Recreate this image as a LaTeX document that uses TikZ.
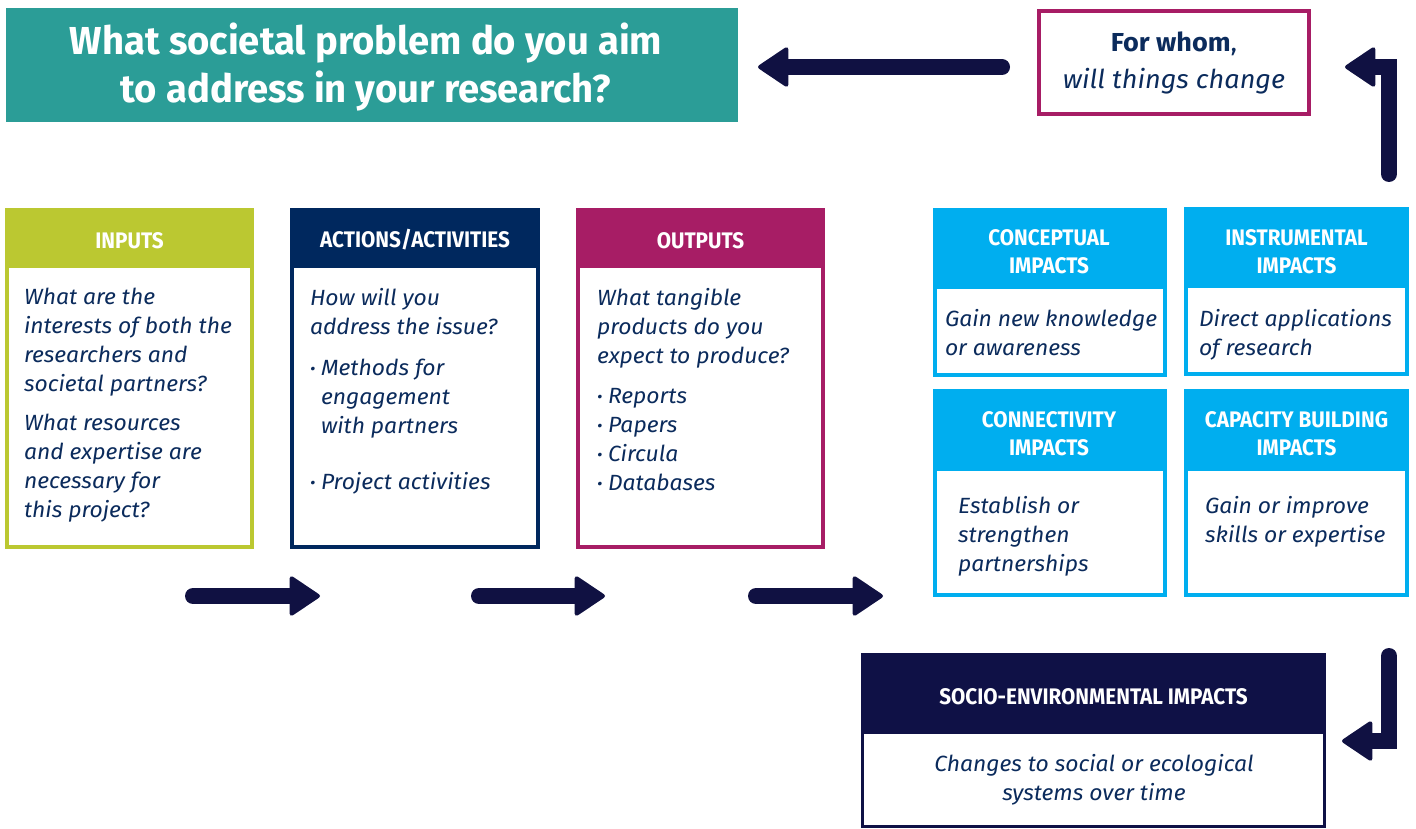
\documentclass[tikz,border=0pt]{standalone}
\usepackage{fontspec}
\setmainfont{Fira Sans}
\newfontfamily\headfont{Fira Sans}[FakeStretch=0.92]
\newfontfamily\titlefont{Fira Sans}[FakeStretch=0.98]
\newfontfamily\bodyfont{Fira Sans}[FakeStretch=1.04]
\usetikzlibrary{arrows.meta}
\definecolor{cTeal}{HTML}{2B9D97}
\definecolor{cGreen}{HTML}{BBC831}
\definecolor{cNavy}{HTML}{00285E}
\definecolor{cMag}{HTML}{A71D65}
\definecolor{cCyan}{HTML}{00AEEF}
\definecolor{cDark}{HTML}{0F1146}
\definecolor{cText}{HTML}{0B2B5C}
\definecolor{cArrow}{HTML}{101142}
\newcommand{\bul}{\makebox[11pt][l]{\raisebox{0.5pt}{\fontsize{16}{16}\selectfont •}}}
\newcommand{\ind}{\hspace*{11pt}}
\begin{document}
\begin{tikzpicture}[x=1pt,y=-1pt,
  frame/.style={draw=#1, line width=4pt, fill=white, inner sep=0pt, outer sep=0pt},
  head/.style={fill=#1, inner sep=0pt, outer sep=0pt, text=white, align=center,
    font=\headfont\bfseries\fontsize{22.5}{28}\selectfont,
    execute at begin node={\rule{0pt}{22pt}}},
  headfill/.style={fill=#1, inner sep=0pt, outer sep=0pt},
  headtext/.style={inner sep=0pt, outer sep=0pt, text=white, align=center,
    font=\headfont\bfseries\fontsize{22.5}{28}\selectfont},
  body/.style={anchor=north west, inner sep=0pt, outer sep=0pt, align=left, text=cText,
    font=\bodyfont\itshape\fontsize{22}{29}\selectfont},
  bigarrow/.style={draw=cArrow, line width=16pt, line cap=round,
    -{Triangle[round, length=32pt, width=42pt, line width=4pt]}},
]
\useasboundingbox (0,0) rectangle (1416,829);

% title
\node[fill=cTeal, minimum width=732pt, minimum height=114pt, inner sep=0pt, outer sep=0pt]
  (title) at (372,65) {};
\node[inner sep=0pt, outer sep=0pt, text=white, align=center,
  font=\titlefont\bfseries\fontsize{39}{48}\selectfont]
  (titleT) at (366,67) {What societal problem do you aim\\to address in your research?};

% for whom
\node[draw=cMag, line width=4pt, minimum width=270pt, minimum height=103pt, inner sep=0pt,
  outer sep=0pt, align=center, text=cText, font=\bodyfont\fontsize{26}{37}\selectfont]
  (whom) at (1174,62.5) {\textbf{For whom},\\\textit{will things change}};

% INPUTS
\node[frame=cGreen, minimum width=245pt, minimum height=337pt] (inputs) at (129.5,378.5) {};
\node[head=cGreen, minimum width=249pt, minimum height=60pt] (inputsH) at (129.5,238) {INPUTS};
\node[body] (inputsB) at (24,288) {What are the\\interests of both the\\researchers and\\societal partners?\\[10pt]What resources\\and expertise are\\necessary for\\this project?};

% ACTIONS
\node[frame=cNavy, minimum width=246pt, minimum height=337pt] (actions) at (415,378.5) {};
\node[head=cNavy, minimum width=250pt, minimum height=60pt] (actionsH) at (415,238) {ACTIONS/ACTIVITIES};
\node[body] (actionsB) at (310,288) {How will you\\address the issue?\\[12pt]\bul Methods for\\\ind engagement\\\ind with partners\\[27pt]\bul Project activities};

% OUTPUTS
\node[frame=cMag, minimum width=245pt, minimum height=337pt] (outputs) at (700.5,378.5) {};
\node[head=cMag, minimum width=249pt, minimum height=60pt] (outputsH) at (700.5,238) {OUTPUTS};
\node[body] (outputsB) at (597,288) {What tangible\\products do you\\expect to produce?\\[11pt]\bul Reports\\\bul Papers\\\bul Circula\\\bul Databases};

% CONCEPTUAL
\node[frame=cCyan, minimum width=230pt, minimum height=165pt] (concept) at (1050,292.5) {};
\node[headfill=cCyan, minimum width=234pt, minimum height=81pt] (conceptH) at (1050,248.5) {};
\node[headtext] (conceptT) at (1049,251.5) {CONCEPTUAL\\IMPACTS};
\node[body] (conceptB) at (945,309) {Gain new knowledge\\or awareness};

% INSTRUMENTAL
\node[frame=cCyan, minimum width=221pt, minimum height=165pt] (instr) at (1296.5,291.5) {};
\node[headfill=cCyan, minimum width=225pt, minimum height=81pt] (instrH) at (1296.5,247.5) {};
\node[headtext] (instrT) at (1296.5,251.5) {INSTRUMENTAL\\IMPACTS};
\node[body] (instrB) at (1199,309) {Direct applications\\of research};

% CONNECTIVITY
\node[frame=cCyan, minimum width=230pt, minimum height=204pt] (conn) at (1050,493) {};
\node[headfill=cCyan, minimum width=234pt, minimum height=82pt] (connH) at (1050,430) {};
\node[headtext] (connT) at (1049,433.5) {CONNECTIVITY\\IMPACTS};
\node[body] (connB) at (958,496) {Establish or\\strengthen\\partnerships};

% CAPACITY
\node[frame=cCyan, minimum width=221pt, minimum height=204pt] (cap) at (1296.5,493) {};
\node[headfill=cCyan, minimum width=225pt, minimum height=82pt] (capH) at (1296.5,430) {};
\node[headtext] (capT) at (1296.5,433.5) {CAPACITY BUILDING\\IMPACTS};
\node[body] (capB) at (1205,496) {Gain or improve\\skills or expertise};

% SOCIO
\node[draw=cDark, line width=3pt, fill=white, inner sep=0pt, outer sep=0pt,
  minimum width=462pt, minimum height=172pt] (socio) at (1093.5,740.5) {};
\node[head=cDark, minimum width=465pt, minimum height=81pt] (socioH) at (1093.5,693.5) {SOCIO-ENVIRONMENTAL IMPACTS};
\node[body, anchor=center, align=center] (socioB) at (1094,780) {Changes to social or ecological\\systems over time};

% arrows
\coordinate (a1s) at (193,596);
\coordinate (a1e) at (320,596);
\coordinate (a2s) at (479,596);
\coordinate (a2e) at (605,596);
\coordinate (a3s) at (756,596);
\coordinate (a3e) at (883,596);
\coordinate (t1s) at (1002,67);
\coordinate (t1e) at (758,67);
\coordinate (r1s) at (1389,174);
\coordinate (r1c) at (1389,67);
\coordinate (r1e) at (1345,67);
\coordinate (d1s) at (1389,656);
\coordinate (d1c) at (1389,741);
\coordinate (d1e) at (1342,741);
\draw[bigarrow] (a1s) -- (a1e);
\draw[bigarrow] (a2s) -- (a2e);
\draw[bigarrow] (a3s) -- (a3e);
\draw[bigarrow] (t1s) -- (t1e);
\draw[bigarrow] (r1s) -- (r1c) -- (r1e);
\draw[bigarrow] (d1s) -- (d1c) -- (d1e);
\end{tikzpicture}
\end{document}
